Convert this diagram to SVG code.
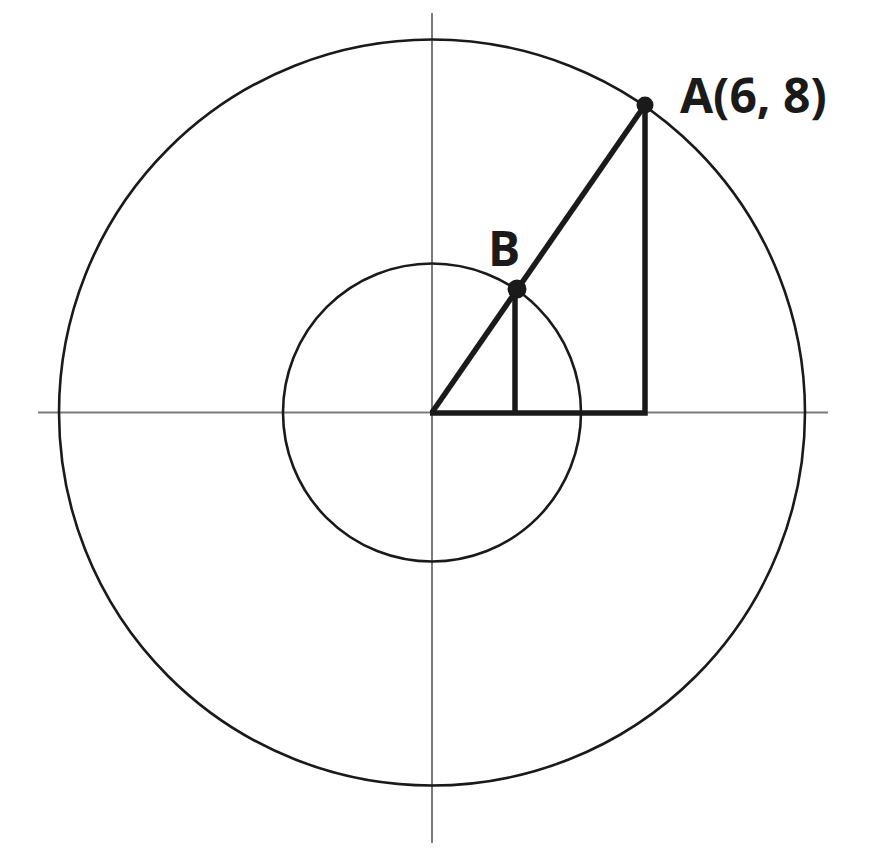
<svg xmlns="http://www.w3.org/2000/svg" width="895" height="853" viewBox="0 0 895 853">
<style>
.axis{stroke:#7a7a7a;stroke-width:2;fill:none}
.circ{stroke:#1a1a1a;stroke-width:2.6;fill:none}
.thick{stroke:#1a1a1a;stroke-width:5.5;fill:none;stroke-linecap:butt}
.dot{fill:#1a1a1a}
.lbl{font-family:"Open Sans","Noto Sans",sans-serif;font-weight:bold;fill:#1a1a1a;font-size:48px}
</style>
<rect width="895" height="853" fill="#ffffff"/>
<g id="axes">
<line class="axis" x1="432" y1="13" x2="432" y2="843"/>
<line class="axis" x1="38" y1="412.5" x2="828" y2="412.5"/>
</g>
<g id="outer-circle"><circle class="circ" cx="432" cy="412.5" r="373"/></g>
<g id="inner-circle"><circle class="circ" cx="432" cy="412.5" r="149"/></g>
<g id="connectors">
<line class="thick" x1="432" y1="412.5" x2="645" y2="105"/>
<polyline class="thick" points="430,413 645,413 645,105"/>
<line class="thick" x1="515" y1="413" x2="515" y2="289"/>
</g>
<g id="pointA">
<circle class="dot" cx="645" cy="105" r="8.5"/>
<text class="lbl" x="680" y="113">A(6, 8)</text>
</g>
<g id="pointB">
<circle class="dot" cx="517" cy="289" r="9.5"/>
<text class="lbl" x="488" y="266">B</text>
</g>
</svg>
